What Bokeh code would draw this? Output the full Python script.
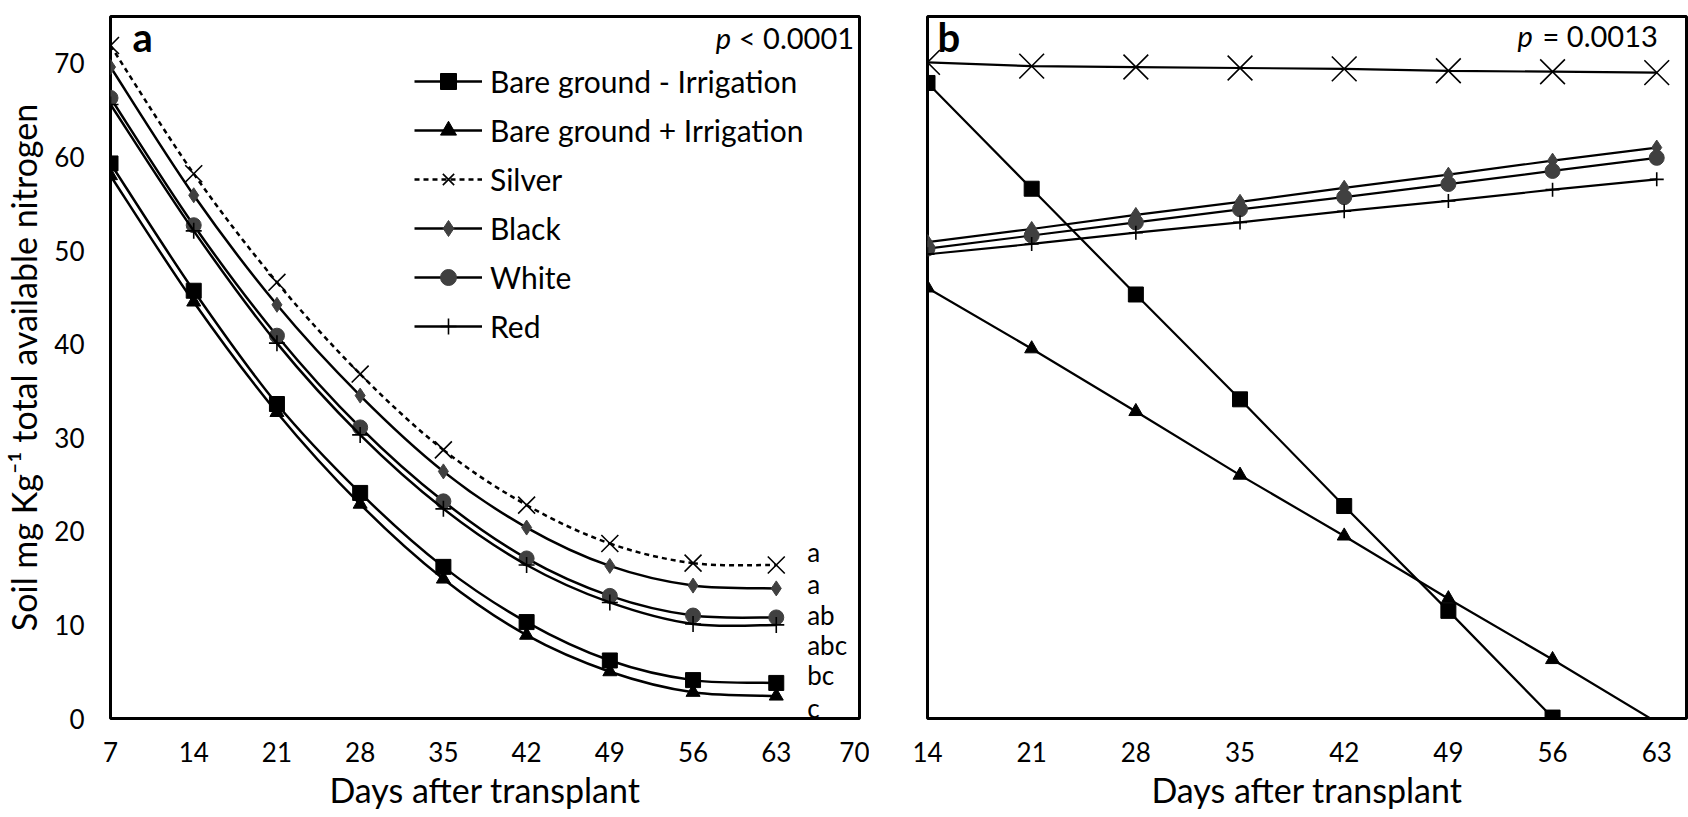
import numpy as np
from bokeh.plotting import figure
from bokeh.models import Range1d, FixedTicker, Label, Legend, LegendItem, ColumnDataSource
from bokeh.layouts import row
from bokeh.embed import file_html
from bokeh.resources import INLINE

# ---------------- data ----------------
days_a = [7, 14, 21, 28, 35, 42, 49, 56, 63]
a_bare_minus = [59.3, 45.7, 33.6, 24.1, 16.2, 10.3, 6.2, 4.1, 3.8]
a_bare_plus = [58.0, 44.5, 32.7, 22.9, 14.9, 8.9, 5.0, 2.8, 2.4]
a_silver = [71.9, 58.2, 46.6, 36.8, 28.7, 22.8, 18.7, 16.6, 16.4]
a_black = [69.6, 55.9, 44.2, 34.5, 26.4, 20.4, 16.3, 14.2, 13.9]
a_white = [66.3, 52.7, 40.9, 31.1, 23.2, 17.1, 13.1, 11.0, 10.8]
a_red = [65.6, 52.1, 40.1, 30.3, 22.4, 16.4, 12.4, 10.1, 10.0]
sig_letters = ["a", "a", "ab", "abc", "bc", "c"]

days_b = [14, 21, 28, 35, 42, 49, 56, 63]
b_bare_minus = [67.9, 56.6, 45.3, 34.1, 22.7, 11.5, 0.1]          # days 14..56
b_bare_plus = [46.0, 39.5, 32.8, 26.0, 19.5, 12.8, 6.3, -0.4]
b_silver = [70.1, 69.7, 69.6, 69.5, 69.4, 69.2, 69.1, 69.0]
b_black = [50.9, 52.3, 53.8, 55.2, 56.7, 58.1, 59.6, 61.0]
b_white = [50.2, 51.6, 53.0, 54.4, 55.7, 57.1, 58.5, 59.9]
b_red = [49.6, 50.7, 51.9, 53.0, 54.2, 55.3, 56.5, 57.6]

series_names = ["Bare ground - Irrigation", "Bare ground + Irrigation", "Silver", "Black", "White", "Red"]
x_ticks_a = [7, 14, 21, 28, 35, 42, 49, 56, 63, 70]
x_ticks_b = [14, 21, 28, 35, 42, 49, 56, 63]
y_ticks = [0, 10, 20, 30, 40, 50, 60, 70]

FONT = "Lato"
GREY = "#404040"

styles = [
    dict(marker="square", size=15, fill="black", line="black", dash="solid"),
    dict(marker="triangle", size=14, fill="black", line="black", dash="solid"),
    dict(marker="x", size=24, fill=None, line="black", dash="5 4"),
    dict(marker="diamond", size=15, fill=GREY, line=GREY, dash="solid"),
    dict(marker="circle", size=15, fill=GREY, line=GREY, dash="solid"),
    dict(marker="cross", size=16, fill=None, line="black", dash="solid"),
]


def smooth_segments(xs, ys):
    x = np.asarray(xs, float)
    y = np.asarray(ys, float)
    xp = np.concatenate([[x[0]], x, [x[-1]]])
    yp = np.concatenate([[y[0]], y, [y[-1]]])
    n = len(x)
    return dict(
        x0=x[:-1], y0=y[:-1], x1=x[1:], y1=y[1:],
        cx0=x[:-1] + (x[1:] - xp[:n - 1]) / 6.0,
        cy0=y[:-1] + (y[1:] - yp[:n - 1]) / 6.0,
        cx1=x[1:] - (xp[3:] - x[:-1]) / 6.0,
        cy1=y[1:] - (yp[3:] - y[:-1]) / 6.0,
    )


def style_fig(p, xticks, show_y):
    p.outline_line_color = "black"
    p.outline_line_width = 3
    p.xgrid.visible = False
    p.ygrid.visible = False
    p.background_fill_color = "white"
    p.border_fill_color = "white"
    xa = p.xaxis[0]
    xa.ticker = FixedTicker(ticks=xticks)
    xa.axis_line_color = None
    xa.major_tick_line_color = None
    xa.minor_tick_line_color = None
    xa.major_tick_out = 0
    xa.major_label_standoff = 23
    xa.major_label_text_font = FONT
    xa.major_label_text_font_size = "26px"
    xa.major_label_text_color = "black"
    xa.axis_label = "Days after transplant"
    xa.axis_label_text_font = FONT
    xa.axis_label_text_font_size = "34px"
    xa.axis_label_text_font_style = "normal"
    xa.axis_label_text_color = "black"
    xa.axis_label_standoff = 4
    ya = p.yaxis[0]
    if show_y:
        ya.ticker = FixedTicker(ticks=y_ticks)
        ya.axis_line_color = None
        ya.major_tick_line_color = None
        ya.minor_tick_line_color = None
        ya.major_tick_out = 0
        ya.major_label_standoff = 26
        ya.major_label_text_font = FONT
        ya.major_label_text_font_size = "26px"
        ya.major_label_text_color = "black"
        ya.axis_label = "Soil mg Kg\u207b\u00b9 total available nitrogen"
        ya.axis_label_text_font = FONT
        ya.axis_label_text_font_size = "34px"
        ya.axis_label_text_font_style = "normal"
        ya.axis_label_text_color = "black"
        ya.axis_label_standoff = 7
    else:
        ya.visible = False


# ---------------- panel a ----------------
pa = figure(width=869, height=812, x_range=Range1d(7, 70), y_range=Range1d(0, 75),
            output_backend="svg", toolbar_location=None,
            min_border_left=108, min_border_right=10, min_border_top=12, min_border_bottom=88)
style_fig(pa, x_ticks_a, True)

legend_items = []
for name, ys, st in zip(series_names, [a_bare_minus, a_bare_plus, a_silver, a_black, a_white, a_red], styles):
    seg = ColumnDataSource(smooth_segments(days_a, ys))
    bz = pa.bezier(x0="x0", y0="y0", x1="x1", y1="y1", cx0="cx0", cy0="cy0", cx1="cx1", cy1="cy1",
                   source=seg, line_color="black", line_width=2.5, line_dash=st["dash"])
    sc = pa.scatter(x=days_a, y=ys, marker=st["marker"], size=st["size"],
                    fill_color=st["fill"], line_color=st["line"],
                    line_width=1.6 if st["fill"] is None else 1)
    legend_items.append(LegendItem(label=name, renderers=[bz, sc]))

leg = Legend(items=legend_items, location=(304, 372), padding=0, margin=0,
             border_line_color=None, background_fill_alpha=0,
             glyph_width=68, glyph_height=40, label_height=40, spacing=9,
             label_standoff=8, label_text_font=FONT, label_text_font_size="30px",
             label_text_color="black", label_text_baseline="middle")
pa.add_layout(leg)

pa.add_layout(Label(x=8.85, y=72.8, text="a", text_font=FONT, text_font_size="40px",
                    text_font_style="bold", text_baseline="middle", text_color="black"))
pa.add_layout(Label(x=57.9, y=72.8, text="p", text_font=FONT, text_font_size="29px",
                    text_font_style="italic", text_baseline="middle", text_color="black"))
pa.add_layout(Label(x=59.85, y=72.8, text="< 0.0001", text_font=FONT, text_font_size="29px",
                    text_baseline="middle", text_color="black"))
letter_pos = [17.8, 14.4, 11.1, 7.8, 4.6, 1.1]
for t, yy in zip(sig_letters, letter_pos):
    pa.add_layout(Label(x=65.6, y=yy, text=t, text_font=FONT, text_font_size="26px",
                        text_baseline="middle", text_color="black"))

# ---------------- panel b ----------------
pb = figure(width=819, height=812, x_range=Range1d(14, 65), y_range=Range1d(0, 75),
            output_backend="svg", toolbar_location=None,
            min_border_left=58, min_border_right=2, min_border_top=16, min_border_bottom=89)
style_fig(pb, x_ticks_b, False)

b_sizes = [15, 14, 35, 15, 15, 14]
b_series = [b_bare_minus, b_bare_plus, b_silver, b_black, b_white, b_red]
for ys, st, sz in zip(b_series, styles, b_sizes):
    xs = days_b[:len(ys)]
    pb.line(x=xs, y=ys, line_color="black", line_width=2.2)
    mx = [d for d, v in zip(xs, ys) if v >= 0]
    my = [v for v in ys if v >= 0]
    pb.scatter(x=mx, y=my, marker=st["marker"], size=sz, fill_color=st["fill"],
               line_color=st["line"], line_width=1.6 if st["fill"] is None else 1)

pb.add_layout(Label(x=14.67, y=72.8, text="b", text_font=FONT, text_font_size="40px",
                    text_font_style="bold", text_baseline="middle", text_color="black"))
pb.add_layout(Label(x=53.65, y=73.0, text="p", text_font=FONT, text_font_size="29px",
                    text_font_style="italic", text_baseline="middle", text_color="black"))
pb.add_layout(Label(x=55.33, y=73.0, text="= 0.0013", text_font=FONT, text_font_size="29px",
                    text_baseline="middle", text_color="black"))

layout = row(pa, pb)
open("out.html", "w").write(file_html(layout, INLINE))
